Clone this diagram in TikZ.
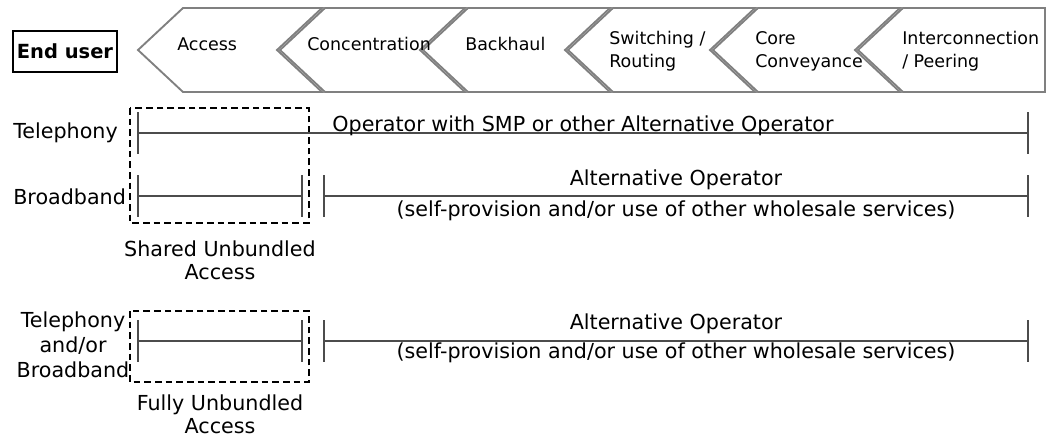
\documentclass[tikz,border=0pt]{standalone}
\usepackage{fontspec}
\setmainfont{DejaVu Sans}
\usetikzlibrary{arrows.meta}

\begin{document}
\begin{tikzpicture}[x=0.75pt,y=-0.75pt,
    chev/.style={draw=black!50,fill=white,line width=1.4pt,line join=miter},
    chevtext/.style={font=\fontsize{13.1}{17.25}\selectfont,inner sep=0pt,align=left},
    lbl/.style={font=\fontsize{15.5}{17.25}\selectfont,inner sep=0pt,align=center},
    bar/.style={draw=black!70,line width=1.4pt,{Bar[width=31pt]}-{Bar[width=31pt]}},
    dbox/.style={draw=black,line width=0.8pt,dash pattern=on 5pt off 3pt}]
  \useasboundingbox (0,0) rectangle (1050,437);

  % value chain
  \foreach \a/\b in {138/277,280/420,423/565,568/710,713/855}
    \filldraw[chev] (\a,50) -- (\a+45,8) -- (\b+45,8) -- (\b,50)
                    -- (\b+45,92) -- (\a+45,92) -- cycle;
  \filldraw[chev] (858,50) -- (903,8) -- (1045,8) -- (1045,92)
                  -- (903,92) -- cycle;

  \node[draw,line width=1pt,inner sep=0pt,minimum width=78pt,minimum height=30.75pt,
        font=\fontsize{14.6}{17}\selectfont\bfseries] (enduser) at (65,51.5) {End user};

  \node[chevtext,anchor=base west] (access)  at (177,50) {Access};
  \node[chevtext,anchor=base west] (concent) at (307,50) {Concentration};
  \node[chevtext,anchor=base west] (backhaul) at (465,50) {Backhaul};
  \node[chevtext,anchor=west] (switching) at (609,51) {Switching /\\Routing};
  \node[chevtext,anchor=west] (core) at (755,51) {Core\\Conveyance};
  \node[chevtext,anchor=west] (intercon) at (902,51) {Interconnection\\/ Peering};

  % unbundled access boxes
  \draw[dbox] (130,108) rectangle (309,223);
  \draw[dbox] (130,311) rectangle (309,382);

  % services
  \coordinate (tel1) at (137,133);
  \coordinate (tel2) at (1029,133);
  \coordinate (bb1) at (137,196);
  \coordinate (bb2) at (303,196);
  \coordinate (bb3) at (323,196);
  \coordinate (bb4) at (1029,196);
  \coordinate (full1) at (137,341);
  \coordinate (full2) at (303,341);
  \coordinate (full3) at (323,341);
  \coordinate (full4) at (1029,341);

  \draw[bar] (tel1) -- (tel2);
  \draw[bar] (bb1) -- (bb2);
  \draw[bar] (bb3) -- (bb4);
  \draw[bar] (full1) -- (full2);
  \draw[bar] (full3) -- (full4);

  \node[lbl,anchor=west] (telephony) at (13,133) {Telephony};
  \node[lbl,anchor=west] (broadband) at (13,197) {Broadband};
  \node[lbl,font=\fontsize{15.5}{18.75}\selectfont] (telbb) at (73,345) {Telephony\\and/or\\Broadband};

  \node[lbl,anchor=base] (smp) at (583,131) {Operator with SMP or other Alternative Operator};
  \node[lbl,anchor=base] (altop1) at (676,185) {Alternative Operator};
  \node[lbl,anchor=base] (selfprov1) at (676,216) {(self-provision and/or use of other wholesale services)};
  \node[lbl,anchor=base] (altop2) at (676,329) {Alternative Operator};
  \node[lbl,anchor=base] (selfprov2) at (676,358) {(self-provision and/or use of other wholesale services)};

  \node[lbl] (shared) at (220,260) {Shared Unbundled\\Access};
  \node[lbl] (fully) at (220,414) {Fully Unbundled\\Access};
\end{tikzpicture}
\end{document}
